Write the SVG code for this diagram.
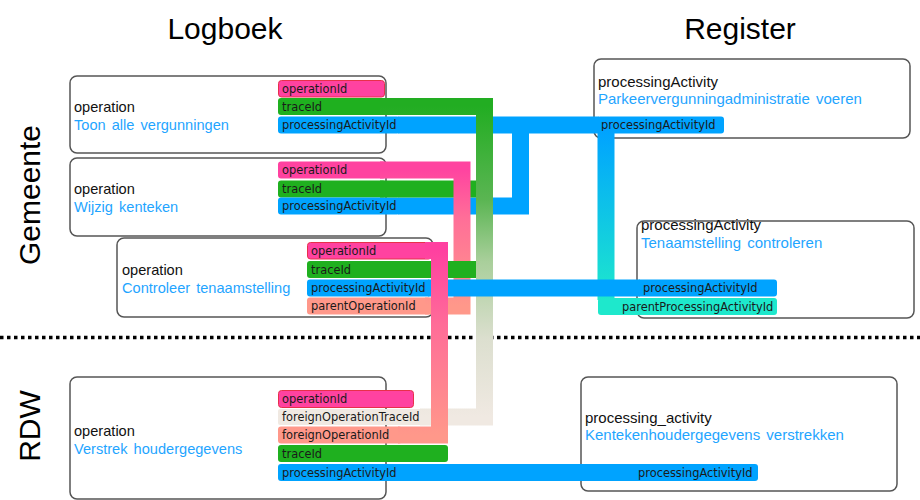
<svg xmlns="http://www.w3.org/2000/svg" width="920" height="500" viewBox="0 0 920 500">
<style>
.title{font-family:"Liberation Sans",Arial,sans-serif;font-size:30px;fill:#000}
.box{fill:none;stroke:#555;stroke-width:1.5}
.kind{font-family:"Liberation Sans",Arial,sans-serif;font-size:14.6px;fill:#111}
.name{font-family:"Liberation Sans",Arial,sans-serif;font-size:14.6px;fill:#1fa5ff;word-spacing:2px}
.r{font-size:15px}
.fl{font-family:"DejaVu Sans",Verdana,sans-serif;font-size:11.4px;fill:#1a1a1a}
.pink{fill:#ff42a0}
.pinkb{fill:#ff42a0;stroke:#e8304a;stroke-width:1}
.green{fill:#1fb01f}
.blue{fill:#00a3ff}
.salmon{fill:#ff988a}
.beige{fill:#f0e9e2}
.teal{fill:#1ee8cc}
.c{fill:none;stroke-width:17;stroke-linejoin:miter}
</style>
<defs>
<linearGradient id="gGreen" gradientUnits="userSpaceOnUse" x1="0" y1="106" x2="0" y2="417">
<stop offset="0" stop-color="#22ad22"/><stop offset="0.3" stop-color="#5ab552"/><stop offset="0.5" stop-color="#a9cf9b"/><stop offset="0.75" stop-color="#dcdfcf"/><stop offset="1" stop-color="#f0e9e2"/>
</linearGradient>
<linearGradient id="gPinkA" gradientUnits="userSpaceOnUse" x1="0" y1="170" x2="0" y2="306">
<stop offset="0" stop-color="#ff44a0"/><stop offset="0.35" stop-color="#ff6e98"/><stop offset="1" stop-color="#ff988a"/>
</linearGradient>
<linearGradient id="gPinkB" gradientUnits="userSpaceOnUse" x1="0" y1="250" x2="0" y2="435">
<stop offset="0" stop-color="#ff40a0"/><stop offset="0.4" stop-color="#ff6c98"/><stop offset="1" stop-color="#ff988a"/>
</linearGradient>
<linearGradient id="gTeal" gradientUnits="userSpaceOnUse" x1="0" y1="131" x2="0" y2="300">
<stop offset="0" stop-color="#00a3ff"/><stop offset="1" stop-color="#1ee8cc"/>
</linearGradient>
</defs>
<rect width="920" height="500" fill="#fff"/>
<text class="title" x="225" y="39" text-anchor="middle">Logboek</text>
<text class="title" x="740" y="39" text-anchor="middle">Register</text>
<text class="title" transform="translate(40,195) rotate(-90)" text-anchor="middle">Gemeente</text>
<text class="title" transform="translate(40,426) rotate(-90)" text-anchor="middle">RDW</text>
<line x1="0" y1="337.5" x2="920" y2="337.5" stroke="#000" stroke-width="3.5" stroke-dasharray="3.5 3.5"/>

<g id="op-toon">
<rect class="box" x="70" y="76" width="316" height="77" rx="7"/>
<text class="kind" x="74" y="112">operation</text>
<text class="name" x="74" y="130">Toon alle vergunningen</text>
<rect class="pinkb" x="278.5" y="80.5" width="106" height="16.5" rx="3"/>
<text class="fl" x="282" y="93">operationId</text>
<rect class="green" x="278" y="98" width="108" height="17" rx="3"/>
<text class="fl" x="282" y="111">traceId</text>
<rect class="blue" x="278" y="116.5" width="122" height="17" rx="3"/>
<text class="fl" x="282" y="129">processingActivityId</text>
</g>

<g id="op-wijzig">
<rect class="box" x="70" y="158" width="316" height="78" rx="7"/>
<text class="kind" x="74" y="194">operation</text>
<text class="name" x="74" y="212">Wijzig kenteken</text>
<rect class="pink" x="278" y="161.5" width="108" height="17" rx="3"/>
<text class="fl" x="282" y="174">operationId</text>
<rect class="green" x="278" y="180.5" width="108" height="17" rx="3"/>
<text class="fl" x="282" y="193">traceId</text>
<rect class="blue" x="278" y="197.5" width="122" height="17" rx="3"/>
<text class="fl" x="282" y="210">processingActivityId</text>
</g>

<g id="op-controleer">
<rect class="box" x="117" y="238" width="316" height="79" rx="7"/>
<text class="kind" x="122" y="275">operation</text>
<text class="name" x="122" y="293">Controleer tenaamstelling</text>
<rect class="pinkb" x="307.5" y="242.5" width="124" height="16.5" rx="3"/>
<text class="fl" x="311" y="255">operationId</text>
<rect class="green" x="307" y="261" width="124" height="17" rx="3"/>
<text class="fl" x="311" y="274">traceId</text>
<rect class="blue" x="307" y="279.5" width="124" height="17" rx="3"/>
<text class="fl" x="311" y="292">processingActivityId</text>
<rect class="salmon" x="307" y="297.5" width="124" height="17" rx="3"/>
<text class="fl" x="311" y="310">parentOperationId</text>
</g>

<g id="op-verstrek">
<rect class="box" x="70" y="377" width="316" height="122" rx="7"/>
<text class="kind" x="74" y="436">operation</text>
<text class="name" x="74" y="454">Verstrek houdergegevens</text>
<rect class="pinkb" x="278.5" y="390.5" width="135" height="17" rx="3"/>
<text class="fl" x="282" y="403">operationId</text>
<rect class="beige" x="278" y="409" width="144" height="16" rx="2"/>
<text class="fl" x="282" y="421" fill="#333">foreignOperationTraceId</text>
<rect class="salmon" x="278" y="426.5" width="124" height="17" rx="3"/>
<text class="fl" x="282" y="439">foreignOperationId</text>
<rect class="green" x="278" y="445" width="170" height="17" rx="3"/>
<text class="fl" x="282" y="458">traceId</text>
<rect class="blue" x="278" y="464" width="124" height="17" rx="3"/>
<text class="fl" x="282" y="477">processingActivityId</text>
</g>

<g id="pa-parkeer">
<rect class="box" x="594" y="59" width="316" height="79" rx="7"/>
<text class="kind r" x="598" y="87">processingActivity</text>
<text class="name r" x="598" y="104">Parkeervergunningadministratie voeren</text>
<rect class="blue" x="597" y="116.5" width="127" height="17" rx="3"/>
<text class="fl" x="601" y="129">processingActivityId</text>
</g>

<g id="pa-tenaam">
<rect class="box" x="637" y="221" width="277" height="97" rx="7"/>
<text class="kind r" x="641" y="230">processingActivity</text>
<text class="name r" x="641" y="248">Tenaamstelling controleren</text>
<rect class="blue" x="637" y="279.5" width="140" height="17" rx="3"/>
<text class="fl" x="643" y="292">processingActivityId</text>
<rect class="teal" x="598" y="298" width="179" height="17" rx="3"/>
<text class="fl" x="622" y="311">parentProcessingActivityId</text>
</g>

<g id="pa-kenteken">
<rect class="box" x="581" y="377" width="316" height="114" rx="7"/>
<text class="kind r" x="585" y="423">processing_activity</text>
<text class="name r" x="585" y="440">Kentekenhoudergegevens verstrekken</text>
<rect class="blue" x="630" y="464" width="128" height="17" rx="3"/>
<text class="fl" x="638" y="477">processingActivityId</text>
</g>

<g id="connectors">
<path class="c" stroke="#00a3ff" d="M398 125 H599 M398 206 H520.5 V125"/>
<path class="c" stroke="#1fb01f" d="M380 189 H477"/>
<path class="c" stroke="url(#gPinkA)" d="M380 170 H462 V306 H425"/>
<path class="c" stroke="url(#gGreen)" d="M380 106.5 H484.5 V417 H420"/>
<path class="c" stroke="url(#gTeal)" d="M606 131 V300"/>
<path class="c" stroke="#1fb01f" d="M425 269.5 H476"/>
<path class="c" stroke="#00a3ff" d="M428 288 H640"/>
<path class="c" stroke="url(#gPinkB)" d="M425 250.5 H439.5 V435 H398"/>
<path class="c" stroke="#00a3ff" d="M398 472.5 H633"/>
</g>
</svg>
